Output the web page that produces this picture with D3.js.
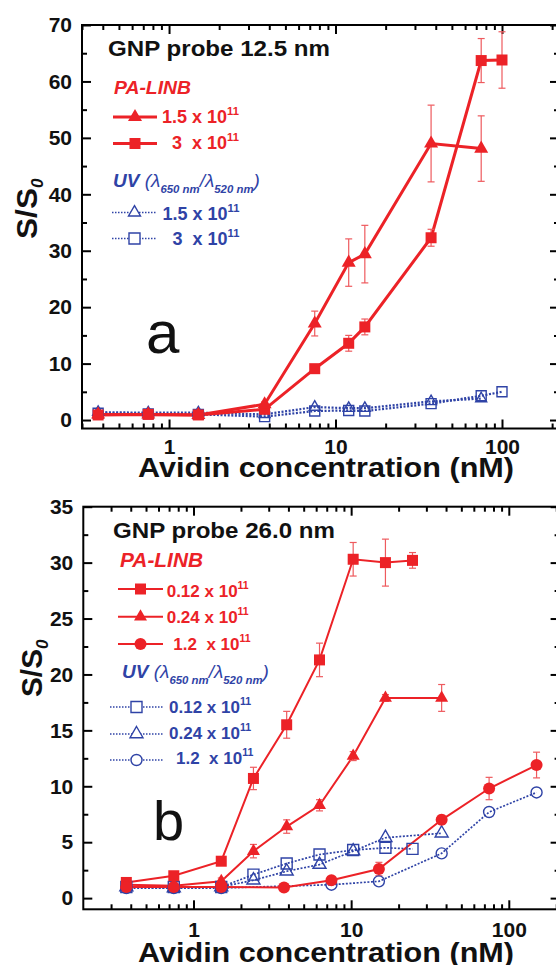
<!DOCTYPE html>
<html><head><meta charset="utf-8">
<script src="https://cdn.jsdelivr.net/npm/d3@7/dist/d3.min.js"></script>
<style>
html,body{margin:0;padding:0;background:#fff;}
svg{display:block;}
text{font-family:'Liberation Sans',Arial,Helvetica,sans-serif;white-space:pre;}
</style></head>
<body>
<svg id="chart" width="556" height="965"></svg>
<script>
// ---------- Panel a data (GNP probe 12.5 nm) ----------
const aX      = [0.375, 0.75, 1.5, 3.75, 7.5, 12, 15, 37.5, 75, 100];
const aTri    = [1.0, 1.0, 0.9, 2.8, 17.1, 27.9, 29.4, 49.0, 48.1];
const aTriErr = [0.3, 0.3, 0.3, 0.4, 2.2, 4.2, 5.1, 6.8, 5.8];
const aSq     = [0.9, 1.0, 0.9, 1.9, 9.1, 13.6, 16.5, 32.3, 63.7, 63.8];
const aSqErr  = [0.2, 0.2, 0.2, 0.3, 0.4, 1.4, 1.4, 1.5, 3.9, 5.0];
const aUvTri  = [1.4, 1.3, 1.3, 1.0, 2.3, 2.1, 2.1, 3.3, 3.8];
const aUvSq   = [1.2, 1.1, 1.0, 0.6, 1.6, 1.7, 1.6, 2.9, 4.3, 5.0];
const aYTicks = [0, 10, 20, 30, 40, 50, 60, 70];

// ---------- Panel b data (GNP probe 26.0 nm) ----------
const bSqX    = [0.375, 0.75, 1.5, 2.4, 3.9, 6.3, 10.3, 16.5, 24.5];
const bSq     = [1.4, 2.0, 3.3, 10.7, 15.5, 21.3, 30.3, 30.0, 30.2];
const bSqErr  = [0.3, 0.2, 0.3, 1.0, 1.2, 1.5, 1.5, 2.1, 0.7];
const bTriX   = [0.375, 0.75, 1.5, 2.4, 3.9, 6.3, 10.3, 16.5, 37.5];
const bTri    = [1.2, 1.1, 1.5, 4.2, 6.4, 8.3, 12.7, 17.9, 17.9];
const bTriErr = [0.3, 0.2, 0.3, 0.6, 0.6, 0.5, 0.4, 0.3, 1.2];
const bCirX   = [0.375, 0.75, 1.5, 3.75, 7.5, 15, 37.5, 75, 150];
const bCir    = [1.0, 1.0, 1.0, 0.95, 1.6, 2.6, 7.0, 9.8, 11.9];
const bCirErr = [0.1, 0.1, 0.1, 0.1, 0.3, 0.6, 0.4, 1.0, 1.15];
const bUvSq   = [1.0, 1.0, 1.0, 2.1, 3.1, 3.9, 4.3, 4.5, 4.4];
const bUvTri  = [1.0, 0.9, 1.0, 1.6, 2.4, 3.0, 4.2, 5.4, 5.8];
const bUvCirX = [0.375, 0.75, 1.5, 7.5, 15, 37.5, 75, 150];
const bUvCir  = [0.9, 0.9, 0.9, 1.2, 1.5, 4.0, 7.7, 9.45];
const bYTicks = [0, 5, 10, 15, 20, 25, 30, 35];

const xTicks = [1, 10, 100];
const xTitle = "Avidin concentration (nM)";

const RED = "#ec2227", ERR = "#ee5a5e", BLUE = "#2f43a6";
const svg = d3.select("#chart");

function minorLog(domain) {
  const out = [];
  for (let p = -2; p <= 3; p++) for (let m = 2; m <= 9; m++) {
    const v = m * Math.pow(10, p);
    if (v > domain[0] && v < domain[1]) out.push(v);
  }
  return out;
}

function panel(cfg) {
  const x = d3.scaleLog().domain(cfg.xDomain).range(cfg.xRange);
  const y = d3.scaleLinear().domain(cfg.yDomain).range(cfg.yRange);
  const g = svg.append("g");
  const [x0, x1] = cfg.xRange, [y0, y1] = cfg.yRange;
  const minorY = d3.range(cfg.yMinorStep, cfg.yDomain[1], cfg.yMinorStep).filter(v => cfg.yTicks.indexOf(v) < 0);
  const minX = minorLog(cfg.xDomain);

  const styleAxis = a => { a.select(".domain").remove(); a.selectAll("line").attr("stroke", "#000").attr("stroke-width", 2);
    a.selectAll("text").attr("font-size", 21).attr("font-weight", "bold").attr("fill", "#111"); };
  // bottom
  g.append("g").attr("transform", `translate(0,${y0})`).call(d3.axisBottom(x).tickValues(xTicks).tickSize(-9).tickPadding(cfg.xPad).tickFormat(d3.format("d"))).call(styleAxis);
  g.append("g").attr("transform", `translate(0,${y0})`).call(d3.axisBottom(x).tickValues(minX).tickSize(-5).tickFormat("")).call(styleAxis);
  // top
  g.append("g").attr("transform", `translate(0,${y1})`).call(d3.axisTop(x).tickValues(xTicks).tickSize(-9).tickFormat("")).call(styleAxis);
  g.append("g").attr("transform", `translate(0,${y1})`).call(d3.axisTop(x).tickValues(minX).tickSize(-5).tickFormat("")).call(styleAxis);
  // left
  g.append("g").attr("transform", `translate(${x0},0)`).call(d3.axisLeft(y).tickValues(cfg.yTicks).tickSize(-9).tickPadding(10).tickFormat(d3.format("d"))).call(styleAxis);
  g.append("g").attr("transform", `translate(${x0},0)`).call(d3.axisLeft(y).tickValues(minorY).tickSize(-5).tickFormat("")).call(styleAxis);
  // right
  g.append("g").attr("transform", `translate(${x1},0)`).call(d3.axisRight(y).tickValues(cfg.yTicks).tickSize(-9).tickFormat("")).call(styleAxis);
  g.append("g").attr("transform", `translate(${x1},0)`).call(d3.axisRight(y).tickValues(minorY).tickSize(-5).tickFormat("")).call(styleAxis);

  g.append("rect").attr("x", x0).attr("y", y1).attr("width", x1 - x0).attr("height", y0 - y1)
    .attr("fill", "none").attr("stroke", "#000").attr("stroke-width", 2);

  const line = d3.line().x(d => x(d[0])).y(d => y(d[1]));
  const layers = ["lines", "err", "marks"].reduce((o, k) => (o[k] = g.append("g"), o), {});
  // order: blue lines, red lines, blue marks, err, red marks
  cfg.series.forEach(s => {
    const pts = d3.zip(s.x.slice(0, s.y.length), s.y, s.err || s.y.map(() => 0));
    layers.lines.append("path").datum(pts).attr("d", line).attr("fill", "none")
      .attr("stroke", s.color).attr("stroke-width", s.lw)
      .attr("stroke-dasharray", s.dotted ? "2,1.6" : null);
    pts.forEach(p => {
      if (p[2] > 0.25) {
        const xp = x(p[0]), ya = y(p[1] + p[2]), yb = y(p[1] - p[2]);
        layers.err.append("line").attr("x1", xp).attr("x2", xp).attr("y1", ya).attr("y2", yb).attr("stroke", ERR).attr("stroke-width", 1.2);
        [ya, yb].forEach(yy => layers.err.append("line").attr("x1", xp - 3.5).attr("x2", xp + 3.5).attr("y1", yy).attr("y2", yy).attr("stroke", ERR).attr("stroke-width", 1.2));
      }
    });
    layers.marks.selectAll(null).data(pts).enter().append("path")
      .attr("transform", d => `translate(${x(d[0])},${y(d[1])})`)
      .attr("d", d3.symbol().type(s.sym).size(s.size))
      .attr("fill", s.filled ? s.color : "none")
      .attr("stroke", s.color).attr("stroke-width", s.filled ? 0 : 1.4);
  });
  layers.err.raise();
  layers.marks.raise();
  return g;
}

const triSize = w => w * w * Math.sqrt(3) / 4;
const sqSize = w => w * w;
const cirSize = d => Math.PI * d * d / 4;

// Panel a
panel({
  xDomain: [0.3, 220], xRange: [82, 559], yDomain: [-1.5, 70], yRange: [428.5, 25],
  yTicks: aYTicks, yMinorStep: 5, xPad: 11,
  series: [
    {x: aX, y: aUvSq, color: BLUE, lw: 2.2, dotted: true, sym: d3.symbolSquare, size: sqSize(10), filled: false},
    {x: aX, y: aUvTri, color: BLUE, lw: 2.2, dotted: true, sym: d3.symbolTriangle, size: triSize(11), filled: false},
    {x: aX, y: aSq, err: aSqErr, color: RED, lw: 3, sym: d3.symbolSquare, size: sqSize(11), filled: true},
    {x: aX, y: aTri, err: aTriErr, color: RED, lw: 3, sym: d3.symbolTriangle, size: triSize(14), filled: true}
  ]
});

// Panel b
panel({
  xDomain: [0.2, 210], xRange: [83.3, 559.6], yDomain: [-1, 35], yRange: [909.3, 506.7],
  yTicks: bYTicks, yMinorStep: 2.5, xPad: 13,
  series: [
    {x: bSqX, y: bUvSq, color: BLUE, lw: 1.7, dotted: true, sym: d3.symbolSquare, size: sqSize(11), filled: false},
    {x: bTriX, y: bUvTri, color: BLUE, lw: 1.7, dotted: true, sym: d3.symbolTriangle, size: triSize(13), filled: false},
    {x: bUvCirX, y: bUvCir, color: BLUE, lw: 1.7, dotted: true, sym: d3.symbolCircle, size: cirSize(11), filled: false},
    {x: bSqX, y: bSq, err: bSqErr, color: RED, lw: 2, sym: d3.symbolSquare, size: sqSize(11), filled: true},
    {x: bTriX, y: bTri, err: bTriErr, color: RED, lw: 2, sym: d3.symbolTriangle, size: triSize(13), filled: true},
    {x: bCirX, y: bCir, err: bCirErr, color: RED, lw: 2, sym: d3.symbolCircle, size: cirSize(12), filled: true}
  ]
});

// ---------- Text ----------
function txt(x, y, s, o) {
  const t = svg.append("text").attr("x", x).attr("y", y).text(s)
    .attr("font-size", o.size).attr("font-weight", o.bold ? "bold" : "normal")
    .attr("font-style", o.italic ? "italic" : "normal").attr("fill", o.color || "#111");
  if (o.len) t.attr("textLength", o.len).attr("lengthAdjust", "spacingAndGlyphs");
  if (o.anchor) t.attr("text-anchor", o.anchor);
  return t;
}
function sciLabel(x, y, mant, color, size) {
  const t = svg.append("text").attr("x", x).attr("y", y).attr("font-size", size).attr("font-weight", "bold").attr("fill", color);
  t.append("tspan").text(mant + " x 10");
  t.append("tspan").text("11").attr("font-size", size * 0.62).attr("dy", -size * 0.45);
}
function uvLabel(x, y, size) {
  const t = svg.append("text").attr("x", x).attr("y", y).attr("font-size", size).attr("fill", BLUE).attr("font-style", "italic");
  t.append("tspan").text("UV").attr("font-weight", "bold");
  t.append("tspan").text(" (λ");
  t.append("tspan").text("650 nm").attr("font-size", size * 0.6).attr("font-weight", "bold").attr("dy", 6);
  t.append("tspan").text("/λ").attr("dy", -6);
  t.append("tspan").text("520 nm").attr("font-size", size * 0.6).attr("font-weight", "bold").attr("dy", 6);
  t.append("tspan").text(")").attr("dy", -6);
}
function legLine(x1, x2, y, color, dotted, sym, size, filled, lw) {
  svg.append("line").attr("x1", x1).attr("x2", x2).attr("y1", y).attr("y2", y)
    .attr("stroke", color).attr("stroke-width", lw).attr("stroke-dasharray", dotted ? "1.5,1.5" : null);
  svg.append("path").attr("transform", `translate(${(x1 + x2) / 2},${y})`)
    .attr("d", d3.symbol().type(sym).size(size))
    .attr("fill", filled ? color : "#fff").attr("stroke", color).attr("stroke-width", filled ? 0 : 1.4);
}
function yTitle(x, y, len) {
  const t = svg.append("text").attr("transform", `translate(${x},${y}) rotate(-90)`)
    .attr("font-size", 30).attr("font-weight", "bold").attr("fill", "#111");
  t.append("tspan").text("S/S").attr("textLength", len).attr("lengthAdjust", "spacingAndGlyphs");
  t.append("tspan").text("0").attr("font-size", 17).attr("font-style", "italic").attr("dy", 6);
}

// Panel a labels
txt(108, 56, "GNP probe 12.5 nm", {size: 22, bold: true, len: 222});
txt(114, 94, "PA-LINB", {size: 19, bold: true, italic: true, color: RED, len: 77});
legLine(113, 157, 117, RED, false, d3.symbolTriangle, triSize(14), true, 3);
sciLabel(162, 123, "1.5", RED, 18);
legLine(113, 157, 143.5, RED, false, d3.symbolSquare, sqSize(11), true, 3);
sciLabel(172, 149, "3 ", RED, 18);
uvLabel(113, 187, 19);
legLine(112, 157, 212.5, BLUE, true, d3.symbolTriangle, triSize(12), false, 1.5);
sciLabel(162.5, 220, "1.5", BLUE, 18);
legLine(112, 157, 238.5, BLUE, true, d3.symbolSquare, sqSize(11), false, 1.5);
sciLabel(172.5, 245, "3 ", BLUE, 18);
txt(146, 353, "a", {size: 60, color: "#111"});
txt(326, 477, xTitle, {size: 27, bold: true, anchor: "middle", len: 376});
yTitle(37, 239, 51);

// Panel b labels
txt(113, 538, "GNP probe 26.0 nm", {size: 22, bold: true, len: 222});
txt(120, 567, "PA-LINB", {size: 20, bold: true, italic: true, color: RED, len: 83});
legLine(118, 163, 589, RED, false, d3.symbolSquare, sqSize(11), true, 2);
sciLabel(166.7, 596.5, "0.12", RED, 17);
legLine(118, 163, 616.7, RED, false, d3.symbolTriangle, triSize(13), true, 2);
sciLabel(166.7, 623, "0.24", RED, 17);
legLine(118, 163, 644, RED, false, d3.symbolCircle, cirSize(12), true, 2);
sciLabel(173.3, 650, "1.2 ", RED, 17);
uvLabel(122, 678, 19);
legLine(110, 163, 707, BLUE, true, d3.symbolSquare, sqSize(11), false, 1.5);
sciLabel(169, 713, "0.12", BLUE, 17);
legLine(110, 163, 734, BLUE, true, d3.symbolTriangle, triSize(13), false, 1.5);
sciLabel(169, 738.5, "0.24", BLUE, 17);
legLine(110, 163, 760, BLUE, true, d3.symbolCircle, cirSize(11), false, 1.5);
sciLabel(176, 764, "1.2 ", BLUE, 17);
txt(153, 840, "b", {size: 56, color: "#111"});
txt(326, 962, xTitle, {size: 27, bold: true, anchor: "middle", len: 376});
yTitle(42, 697, 48);
</script>
</body></html>
